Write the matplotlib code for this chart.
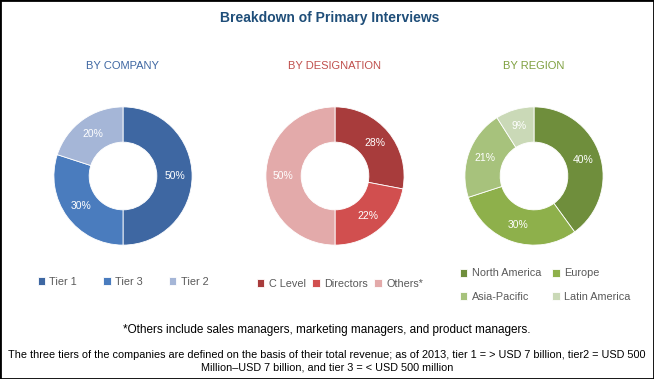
import numpy as np
import matplotlib.pyplot as plt
from matplotlib.patches import Rectangle

plt.rcParams['font.family'] = ['Liberation Sans', 'DejaVu Sans']

# data
company_labels = ['Tier 1', 'Tier 3', 'Tier 2']
company_values = [50, 30, 20]
company_colors = ['#3E67A2', '#4A7CBE', '#A5B6D7']

desig_labels = ['C Level', 'Directors', 'Others*']
desig_values = [28, 22, 50]
desig_colors = ['#A83C3C', '#D14F4F', '#E3AAAA']

region_labels = ['North America', 'Europe', 'Asia-Pacific', 'Latin America']
region_values = [40, 30, 21, 9]
region_colors = ['#6F8E3C', '#8EB04B', '#A7C27C', '#CAD9B7']

W, H = 654, 379
fig = plt.figure(figsize=(W / 100, H / 100), dpi=100)
fig.patch.set_facecolor('white')
fig.add_artist(Rectangle((0, 0), 1, 1, transform=fig.transFigure, fill=False,
                         edgecolor='black', linewidth=2))


def px(x, y):
    return x / W, 1 - y / H


def donut(cx, cy, values, colors, title, title_color):
    size = 152
    ax = fig.add_axes([(cx - size / 2) / W, 1 - (cy + size / 2) / H, size / W, size / H])
    wedges, _ = ax.pie(values, colors=colors, startangle=90, counterclock=False,
                       radius=1.0, wedgeprops=dict(width=0.51, edgecolor='white', linewidth=0.6))
    ang = 90
    for v in values:
        mid = np.deg2rad(ang - v * 3.6 / 2)
        ax.text(0.75 * np.cos(mid), 0.75 * np.sin(mid), f'{v}%', ha='center', va='center',
                color='white', fontsize=7.5)
        ang -= v * 3.6
    ax.set_xlim(-1.1, 1.1)
    ax.set_ylim(-1.1, 1.1)
    ax.set_aspect('equal')
    ax.axis('off')
    fig.text(*px(cx, 66), title, ha='center', va='center', color=title_color, fontsize=8)
    return wedges


w1 = donut(123, 176, company_values, company_colors, 'BY COMPANY', '#3E67A2')
w2 = donut(335, 176, desig_values, desig_colors, 'BY DESIGNATION', '#C0504D')
w3 = donut(534, 176, region_values, region_colors, 'BY REGION', '#7FA03F')

leg_kw = dict(frameon=False, fontsize=7.8, handlelength=0.7, handleheight=0.7,
              handletextpad=0.4, labelcolor='#595959', borderaxespad=0, borderpad=0)
fig.legend(w1, company_labels, loc='center', bbox_to_anchor=px(123, 282), ncol=3,
           columnspacing=2.4, **leg_kw)
fig.legend(w2, desig_labels, loc='center', bbox_to_anchor=px(340, 284), ncol=3,
           columnspacing=0.6, **leg_kw)
# row-major order for a 2-column legend
order = [0, 2, 1, 3]
fig.legend([w3[i] for i in order], [region_labels[i] for i in order], loc='center',
           bbox_to_anchor=px(545, 285), ncol=2, columnspacing=1.0, labelspacing=1.2, **leg_kw)

fig.text(*px(330, 18), 'Breakdown of Primary Interviews', ha='center', va='center',
         color='#1F4E79', fontsize=10, fontweight='bold')
fig.text(*px(327, 330), '*Others include sales managers, marketing managers, and product managers.',
         ha='center', va='center', color='black', fontsize=8.5)
fig.text(*px(327, 361), 'The three tiers of the companies are defined on the basis of their total revenue; '
         'as of 2013, tier 1 = > USD 7 billion, tier2 = USD 500\nMillion\u2013USD 7 billion, and tier 3 = < USD 500 million',
         ha='center', va='center', color='black', fontsize=7.8, linespacing=1.35)

fig.savefig('out.png', dpi=100, facecolor='white')
